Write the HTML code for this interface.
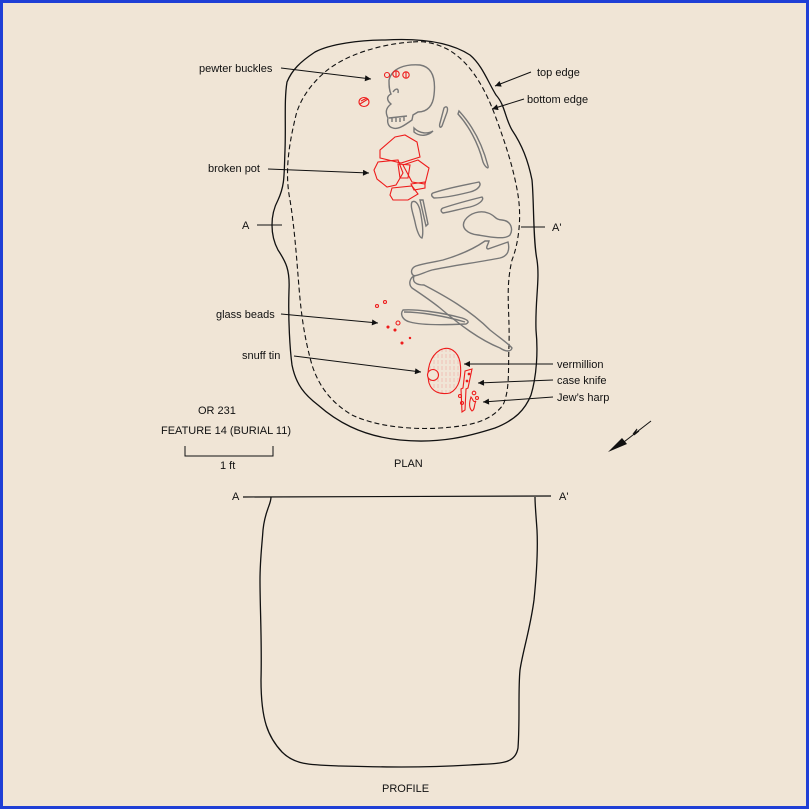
<!DOCTYPE html>
<html><head><meta charset="utf-8"><style>
html,body{margin:0;padding:0;}
body{width:809px;height:809px;background:#f0e5d6;}
svg{display:block;}
text{font-family:"Liberation Sans",sans-serif;font-size:11px;fill:#111;}
</style></head><body>
<svg width="809" height="809" viewBox="0 0 809 809" xmlns="http://www.w3.org/2000/svg">
<defs>
<marker id="ar" viewBox="0 0 10 10" refX="10" refY="5" markerWidth="8" markerHeight="6" orient="auto" markerUnits="userSpaceOnUse"><path d="M0,0 L10,5 L0,10 z" fill="#111"/></marker>
<pattern id="hp" width="4" height="6" patternUnits="userSpaceOnUse"><line x1="2" y1="0" x2="2" y2="4" stroke="#f2a8a0" stroke-width="0.6"/></pattern>
</defs>
<rect x="1.5" y="1.5" width="806" height="806" fill="#f0e5d6" stroke="#1f3fd6" stroke-width="3"/>

<path d="M385,40 C360,40 330,44 315,52 C300,62 292,70 287,82 C284,100 286,125 285,150 C284,175 285,185 278,200 C270,215 270,235 278,250 C286,262 290,270 289,290 C288,320 290,350 292,365 C296,385 305,395 318,405 C335,420 360,436 400,440 C440,444 470,436 495,428 C515,420 525,410 531,395 C537,375 538,350 536,330 C535,300 540,280 537,260 C533,240 534,200 532,180 C528,160 522,145 512,130 C505,118 505,105 496,95 C488,82 482,65 470,55 C450,42 420,38 385,40 Z" fill="none" stroke="#111" stroke-width="1.3"/>
<path d="M412,42 C380,44 345,55 325,72 C310,85 300,100 296,115 C290,140 284,170 290,200 C294,225 296,250 298,275 C300,300 302,330 312,365 C320,390 335,405 352,415 C375,426 410,430 440,428 C470,426 490,422 503,405 C510,390 508,370 509,345 C510,310 505,290 512,260 C518,245 522,220 518,195 C514,170 506,145 496,118 C486,90 470,60 445,48 C432,42 422,41 412,42 Z" fill="none" stroke="#111" stroke-width="1.1" stroke-dasharray="5,3"/>

<g fill="none" stroke="#777" stroke-width="1.4">
<path d="M389,80 C392,68 405,64 420,65 C432,67 436,78 434,95 C433,105 428,112 418,112 L413,115 L412,120 C405,125 398,130 393,128 C388,127 387,122 388,118 C385,112 386,108 391,104 C386,100 387,96 391,94 C389,90 389,85 389,80 Z"/>
<path d="M389,118 L407,116 M392,118 l0,4 M396,118 l0,4 M400,118 l0,4 M404,117 l0,4"/>
<path d="M393,92 C396,88 399,88 398,93"/>
<path d="M414,128 C420,134 428,134 433,131 C428,136 420,137 414,132 Z"/>
<path d="M444,108 C447,105 449,108 446,115 L442,126 C440,129 439,126 440,123 Z"/>
<path d="M459,111 C472,125 482,143 488,166 C489,170 485,167 483,162 C478,142 468,125 458,114 Z"/>
<path d="M433,193 C447,188 465,185 479,182 C482,185 478,190 470,192 C458,195 445,198 434,198 C431,196 431,194 433,193 Z"/>
<path d="M443,208 C455,204 470,200 482,197 C485,200 478,205 470,207 C460,209 450,212 443,213 C440,211 441,209 443,208 Z"/>
<path d="M465,220 C470,213 480,210 488,213 C495,215 495,220 502,220 C512,221 513,230 510,235 C505,240 490,237 478,235 C468,234 460,228 465,220 Z"/>
<path d="M412,202 C415,200 418,203 420,210 C422,220 424,232 422,238 C420,238 417,232 415,222 C413,213 410,206 412,202 Z"/>
<path d="M420,200 L423,200 L428,224 L426,226 Z"/>
<path d="M443,260 C460,255 475,248 485,241 L489,241 C488,245 485,248 488,249 L508,242 C510,250 508,256 500,258 C480,262 450,266 432,270 C425,272 420,275 414,276 C410,273 411,268 416,266 C425,263 435,262 443,260 Z"/>
<path d="M414,276 C412,282 416,285 424,285 C445,296 470,310 490,330 C500,338 510,345 512,348 C511,352 506,352 500,348 C480,340 460,325 440,308 C430,300 418,292 412,288 C408,284 410,278 414,276 Z"/>
<path d="M403,310 C415,309 440,312 462,318 C468,320 470,322 466,324 C445,325 420,325 410,322 C402,320 400,314 403,310 Z"/>
<path d="M404,312 C420,312 445,316 465,322"/>
</g>

<g fill="none" stroke="#ee1c1c" stroke-width="1.1">
<circle cx="387" cy="75" r="2.5"/><circle cx="396" cy="74" r="3.2"/><path d="M396,71 v6"/>
<circle cx="406" cy="75" r="3.2"/><path d="M406,72 v6"/>
<ellipse cx="364" cy="102" rx="5" ry="4.5"/><path d="M360,104 L368,99 M361,101 L367,98"/>
<path d="M380,150 L395,137 L405,135 L417,142 L420,157 L401,163 L380,158 Z"/>
<path d="M374,170 L378,162 L398,160 L403,173 L396,185 L387,187 L377,179 Z"/>
<path d="M403,165 L418,160 L429,168 L425,184 L412,182 Z"/>
<path d="M398,164 L410,165 L408,178 L400,178 Z"/>
<path d="M392,188 L412,186 L418,194 L408,200 L393,200 L390,195 Z"/>
<path d="M411,184 L425,182 L425,188 L414,190 Z"/>
<circle cx="377" cy="306" r="1.5"/><circle cx="385" cy="302" r="1.5"/><circle cx="398" cy="323" r="2"/>
<g fill="#ee1c1c"><circle cx="388" cy="327" r="1"/><circle cx="395" cy="330" r="1"/><circle cx="402" cy="343" r="1"/><circle cx="410" cy="338" r="0.7"/></g>
<path d="M440,350 C450,345 458,352 460,362 C462,375 460,388 450,393 C440,395 432,392 429,383 C426,370 430,356 440,350 Z" fill="url(#hp)"/>
<circle cx="433" cy="375" r="5.5" fill="#f0e5d6"/>
<path d="M465,371 L472,369 L468,388 L466,389 L465,410 L462,412 L461,389 L463,388 Z"/>
<circle cx="469" cy="374" r="0.8" fill="#ee1c1c"/><circle cx="467" cy="381" r="0.8" fill="#ee1c1c"/>
<circle cx="460" cy="396" r="1.5"/><circle cx="462" cy="403" r="1.5"/><circle cx="474" cy="393" r="1.8"/><circle cx="477" cy="398" r="1.5"/>
<path d="M471,397 C469,403 469,408 472,411 C475,410 474,404 476,401 C473,403 473,399 471,397 Z"/>
</g>

<g stroke="#111" stroke-width="1" fill="none">
<line x1="281" y1="68" x2="371" y2="79" marker-end="url(#ar)"/>
<line x1="268" y1="169" x2="369" y2="173" marker-end="url(#ar)"/>
<line x1="281" y1="314" x2="378" y2="323" marker-end="url(#ar)"/>
<line x1="294" y1="356" x2="421" y2="372" marker-end="url(#ar)"/>
<line x1="531" y1="72" x2="495" y2="86" marker-end="url(#ar)"/>
<line x1="524" y1="99" x2="492" y2="109" marker-end="url(#ar)"/>
<line x1="553" y1="364" x2="464" y2="364" marker-end="url(#ar)"/>
<line x1="553" y1="380" x2="478" y2="383" marker-end="url(#ar)"/>
<line x1="553" y1="397" x2="483" y2="402" marker-end="url(#ar)"/>
<line x1="257" y1="225" x2="282" y2="225"/>
<line x1="521" y1="227" x2="545" y2="227"/>
<path d="M185,446 V456 H273 V446"/>
<line x1="651" y1="421" x2="620" y2="445"/>
</g>
<path d="M608,452 L622,438 L627,444 Z" fill="#111"/>
<path d="M633,434 L637,429 L634,435 L639,431" stroke="#111" stroke-width="1" fill="none"/>

<text x="199" y="72">pewter buckles</text>
<text x="208" y="172">broken pot</text>
<text x="216" y="318">glass beads</text>
<text x="242" y="359">snuff tin</text>
<text x="242" y="229" font-size="12">A</text>
<text x="552" y="231" font-size="12">A'</text>
<text x="537" y="76">top edge</text>
<text x="527" y="103">bottom edge</text>
<text x="557" y="368">vermillion</text>
<text x="557" y="384">case knife</text>
<text x="557" y="401">Jew’s harp</text>
<text x="198" y="414">OR 231</text>
<text x="161" y="434">FEATURE 14 (BURIAL 11)</text>
<text x="220" y="469">1 ft</text>
<text x="394" y="467">PLAN</text>

<line x1="243" y1="497" x2="551" y2="496" stroke="#111" stroke-width="1.2"/>
<text x="232" y="500" font-size="12">A</text>
<text x="559" y="500" font-size="12">A'</text>
<path d="M271,497 C271,505 265,510 263,530 C262,545 260,560 260,580 C260,610 262,640 261,680 C261,720 268,737 282,752 C295,765 310,765 340,766 C380,767 420,768 470,765 C500,763 515,765 518,748 C520,720 518,690 520,670 C523,650 530,630 534,600 C537,570 538,550 537,530 C536,515 535,505 535,497" fill="none" stroke="#111" stroke-width="1.3"/>
<text x="382" y="792">PROFILE</text>
</svg>
</body></html>
